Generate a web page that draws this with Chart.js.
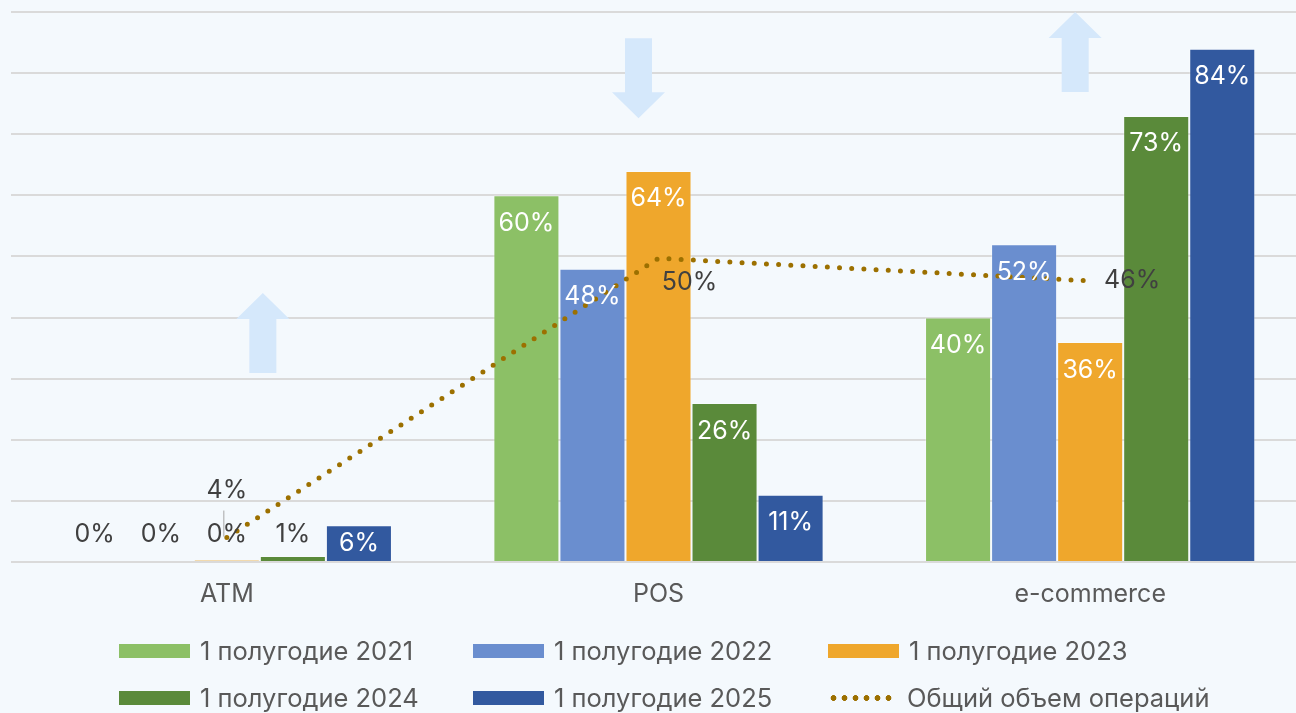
<!DOCTYPE html>
<html>
<head>
<meta charset="utf-8">
<script src="https://cdn.jsdelivr.net/npm/chart.js@4/dist/chart.umd.min.js"></script>
<style>
html,body{margin:0;padding:0;background:#f4f9fd;overflow:hidden;width:1296px;height:713px;}
#wrap{position:absolute;left:0;top:0;width:1306px;height:713px;}
#legend{position:absolute;left:119px;top:627px;display:grid;grid-template-columns:354px 355px 355px;grid-auto-rows:47px;font-family:Inter,sans-serif;font-size:25.5px;color:#595959;}
.item{display:flex;align-items:center;white-space:nowrap;height:47px;}
.box{width:71px;height:14px;margin-right:10px;flex:none;}
.dots{width:64px;height:6px;margin-right:15px;flex:none;}
</style>
</head>
<body>
<div id="wrap"><canvas id="c" width="1306" height="713"></canvas></div>
<div id="legend"></div>
<script>
// ---- data ----
const categories = ['ATM', 'POS', 'e-commerce'];
const seriesNames = ['1 полугодие 2021', '1 полугодие 2022', '1 полугодие 2023', '1 полугодие 2024', '1 полугодие 2025'];
const h2021 = [0, 60, 40];
const h2022 = [0, 48, 52];
const h2023 = [0.3, 64, 36];
const h2024 = [1, 26, 73];
const h2025 = [6, 11, 84];
const totalName = 'Общий объем операций';
const totalVolume = [4, 49.7, 46];
const trend = ['up', 'down', 'up'];
const yMin = 0, yMax = 90, yStep = 10;

// ---- styles ----
const seriesColors = ['#8cc066', '#6a8ecf', '#efa72c', '#5a8a3a', '#32599f'];
const lineColor = '#9c7000';
const arrowColor = '#d5e8fb';
const textDark = '#404040';
const textGray = '#595959';
const FONT = 'Inter, sans-serif';
const lineLabelOffsets = [[0, -47, true], [31, 24, false], [42, 0, false]];
const arrowPlacement = [{dx: 36, top: 44}, {dx: -20, top: 85.7}, {dx: -15, top: 90}];

const barSeries = [h2021, h2022, h2023, h2024, h2025];

const datasets = barSeries.map((d, i) => ({
  type: 'bar',
  label: seriesNames[i],
  data: d,
  backgroundColor: seriesColors[i],
  borderColor: 'rgba(255,255,255,0.3)',
  borderWidth: 1,
  order: 2
}));
datasets.push({
  type: 'line',
  label: totalName,
  data: totalVolume,
  borderColor: lineColor,
  borderWidth: 5,
  borderDash: [0, 12.2],
  borderCapStyle: 'round',
  pointRadius: 0,
  tension: 0,
  fill: false,
  order: 1
});

const arrowPlugin = {
  id: 'arrows',
  beforeDatasetsDraw(chart) {
    const {ctx, scales: {x, y}} = chart;
    ctx.save();
    ctx.fillStyle = arrowColor;
    trend.forEach((dir, i) => {
      const p = arrowPlacement[i];
      const cx = x.getPixelForValue(i) + p.dx;
      const top = y.getPixelForValue(p.top);
      const H = 80, headH = 26, headW = 53, shaftW = 27;
      ctx.beginPath();
      if (dir === 'up') {
        ctx.moveTo(cx, top);
        ctx.lineTo(cx + headW / 2, top + headH);
        ctx.lineTo(cx + shaftW / 2, top + headH);
        ctx.lineTo(cx + shaftW / 2, top + H);
        ctx.lineTo(cx - shaftW / 2, top + H);
        ctx.lineTo(cx - shaftW / 2, top + headH);
        ctx.lineTo(cx - headW / 2, top + headH);
      } else {
        ctx.moveTo(cx - shaftW / 2, top);
        ctx.lineTo(cx + shaftW / 2, top);
        ctx.lineTo(cx + shaftW / 2, top + H - headH);
        ctx.lineTo(cx + headW / 2, top + H - headH);
        ctx.lineTo(cx, top + H);
        ctx.lineTo(cx - headW / 2, top + H - headH);
        ctx.lineTo(cx - shaftW / 2, top + H - headH);
      }
      ctx.closePath();
      ctx.fill();
    });
    ctx.restore();
  }
};

const labelPlugin = {
  id: 'valueLabels',
  afterDatasetsDraw(chart) {
    const ctx = chart.ctx;
    const base = chart.scales.y.getPixelForValue(0);
    ctx.save();
    ctx.font = '25px ' + FONT;
    ctx.textAlign = 'center';
    ctx.textBaseline = 'middle';
    chart.data.datasets.forEach((ds, i) => {
      const meta = chart.getDatasetMeta(i);
      if (ds.type === 'line') {
        meta.data.forEach((pt, j) => {
          const off = lineLabelOffsets[j];
          const lx = pt.x + off[0], ly = pt.y + off[1];
          if (off[2]) {
            ctx.strokeStyle = '#a6a6a6';
            ctx.lineWidth = 1;
            ctx.beginPath();
            ctx.moveTo(pt.x - 3, ly + 20);
            ctx.lineTo(pt.x - 3, pt.y - 1);
            ctx.stroke();
          }
          ctx.fillStyle = textDark;
          ctx.fillText(Math.round(ds.data[j]) + '%', lx, ly);
        });
      } else {
        meta.data.forEach((bar, j) => {
          const h = base - bar.y;
          let ly, col;
          if (h < 20) { ly = base - 28; col = textDark; }
          else { ly = bar.y + Math.min(28, h / 2); col = '#ffffff'; }
          ctx.fillStyle = col;
          ctx.fillText(Math.round(ds.data[j]) + '%', bar.x, ly);
        });
      }
    });
    ctx.restore();
  }
};

Chart.defaults.font.family = FONT;
new Chart(document.getElementById('c'), {
  data: {labels: categories, datasets},
  options: {
    responsive: false,
    animation: false,
    layout: {padding: {left: 11, right: 0, top: 12, bottom: 0}},
    datasets: {bar: {categoryPercentage: 0.765, barPercentage: 1}},
    plugins: {legend: {display: false}, tooltip: {enabled: false}},
    scales: {
      x: {
        grid: {display: false, drawTicks: false},
        border: {display: false},
        ticks: {color: textGray, font: {size: 25, family: FONT}, padding: 17},
        afterFit: s => { s.height = 151; }
      },
      y: {
        min: yMin, max: yMax,
        ticks: {display: false, stepSize: yStep},
        grid: {color: '#dadada', lineWidth: 2, drawTicks: false},
        border: {display: false},
        afterFit: s => { s.width = 0; }
      }
    }
  },
  plugins: [arrowPlugin, labelPlugin]
});

// ---- HTML legend ----
const legend = document.getElementById('legend');
const legendItems = seriesNames.map((n, i) => ({name: n, color: seriesColors[i], kind: 'box'}));
legendItems.push({name: totalName, color: lineColor, kind: 'line'});
legendItems.forEach(it => {
  const el = document.createElement('div');
  el.className = 'item';
  const sw = document.createElement('span');
  if (it.kind === 'box') {
    sw.className = 'box';
    sw.style.background = it.color;
  } else {
    sw.className = 'dots';
    sw.style.background = `radial-gradient(circle, ${it.color} 2.6px, transparent 3.2px) 0 0/11px 6px repeat-x`;
  }
  const tx = document.createElement('span');
  tx.textContent = it.name;
  el.appendChild(sw); el.appendChild(tx);
  legend.appendChild(el);
});
</script>
</body>
</html>
